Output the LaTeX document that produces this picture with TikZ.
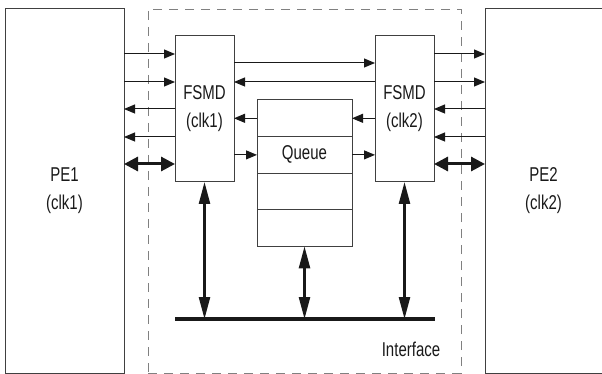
\documentclass[tikz,border=0pt]{standalone}
\usepackage{fontspec}
\setmainfont{Liberation Sans}[FakeStretch=0.75]
\usetikzlibrary{arrows.meta}
\begin{document}
\begin{tikzpicture}[x=1pt,y=-1pt,
  box/.style={draw=black!75, line width=1pt, inner sep=0pt, outer sep=0pt, anchor=north west,
    font=\fontsize{20}{28}\selectfont, text=black!90, align=center},
  lbl/.style={font=\fontsize{20}{28}\selectfont, text=black!90, align=center, inner sep=0pt},
  sig/.style={draw=black!90, line width=1pt, -{Triangle[length=11pt,width=9pt]}},
  bidi/.style={draw=black!90, line width=3pt, {Triangle[length=14pt,width=14pt]}-{Triangle[length=14pt,width=14pt]}},
  vbus/.style={draw=black!90, line width=2.5pt, {Triangle[length=22pt,width=11pt]}-{Triangle[length=22pt,width=11pt]}}
]
\useasboundingbox (0,0) rectangle (602,374);
% interface (dashed)
\node[draw=black!50, line width=0.9pt, dash pattern=on 9pt off 7pt, inner sep=0pt, outer sep=0pt,
  anchor=north west, minimum width=313pt, minimum height=364pt] (iface) at (148,9) {};
\node[lbl] (ifl) at (411,349) {Interface};
% processing elements
\node[box, minimum width=119pt, minimum height=364pt] (pe1) at (5,9) {PE1\\(clk1)};
\node[box, draw=none, minimum width=117pt, minimum height=364pt] (pe2) at (485,9) {PE2\\(clk2)};
\draw[black!75, line width=1pt] (pe2.north east) -- (pe2.north west) -- (pe2.south west) -- (pe2.south east);
% FSMDs
\node[box, minimum width=59pt, minimum height=146pt] (f1) at (175,36) {FSMD\\(clk1)};
\node[box, minimum width=59pt, minimum height=146pt] (f2) at (375,36) {FSMD\\(clk2)};
% queue
\node[box, minimum width=95pt, minimum height=36.6pt] (q1) at (257,100) {};
\node[box, minimum width=95pt, minimum height=36.6pt] (q2) at (257,136.6) {Queue};
\node[box, minimum width=95pt, minimum height=36.6pt] (q3) at (257,173.2) {};
\node[box, minimum width=95pt, minimum height=36.6pt] (q4) at (257,209.8) {};
% levels
\coordinate (r1) at (0,54);
\coordinate (r2) at (0,82);
\coordinate (r3) at (0,109);
\coordinate (r4) at (0,137);
\coordinate (r5) at (0,164);
\coordinate (m1) at (0,63);
% PE1 <-> FSMD1
\draw[sig] (pe1.east |- r1) -- (f1.west |- r1);
\draw[sig] (pe1.east |- r2) -- (f1.west |- r2);
\draw[sig] (f1.west |- r3) -- (pe1.east |- r3);
\draw[sig] (f1.west |- r4) -- (pe1.east |- r4);
\draw[bidi] (pe1.east |- r5) -- (f1.west |- r5);
% FSMD1 <-> FSMD2
\draw[sig] (f1.east |- m1) -- (f2.west |- m1);
\draw[sig] (f2.west |- r2) -- (f1.east |- r2);
% FSMDs <-> queue
\draw[sig] (q1.west) -- (f1.east |- q1.west);
\draw[sig] (f1.east |- q2.west) -- (q2.west);
\draw[sig] (f2.west |- q1.east) -- (q1.east);
\draw[sig] (q2.east) -- (f2.west |- q2.east);
% FSMD2 <-> PE2
\draw[sig] (f2.east |- r1) -- (pe2.west |- r1);
\draw[sig] (f2.east |- r2) -- (pe2.west |- r2);
\draw[sig] (pe2.west |- r3) -- (f2.east |- r3);
\draw[sig] (pe2.west |- r4) -- (f2.east |- r4);
\draw[bidi] (f2.east |- r5) -- (pe2.west |- r5);
% bus
\coordinate (busL) at (175,319);
\coordinate (busR) at (435,319);
\draw[black!90, line width=3.5pt] (busL) -- (busR);
\draw[vbus] (f1.south) -- (f1.south |- busL);
\draw[vbus] (f2.south) -- (f2.south |- busL);
\draw[vbus] (q4.south) -- (q4.south |- busL);
\end{tikzpicture}
\end{document}
